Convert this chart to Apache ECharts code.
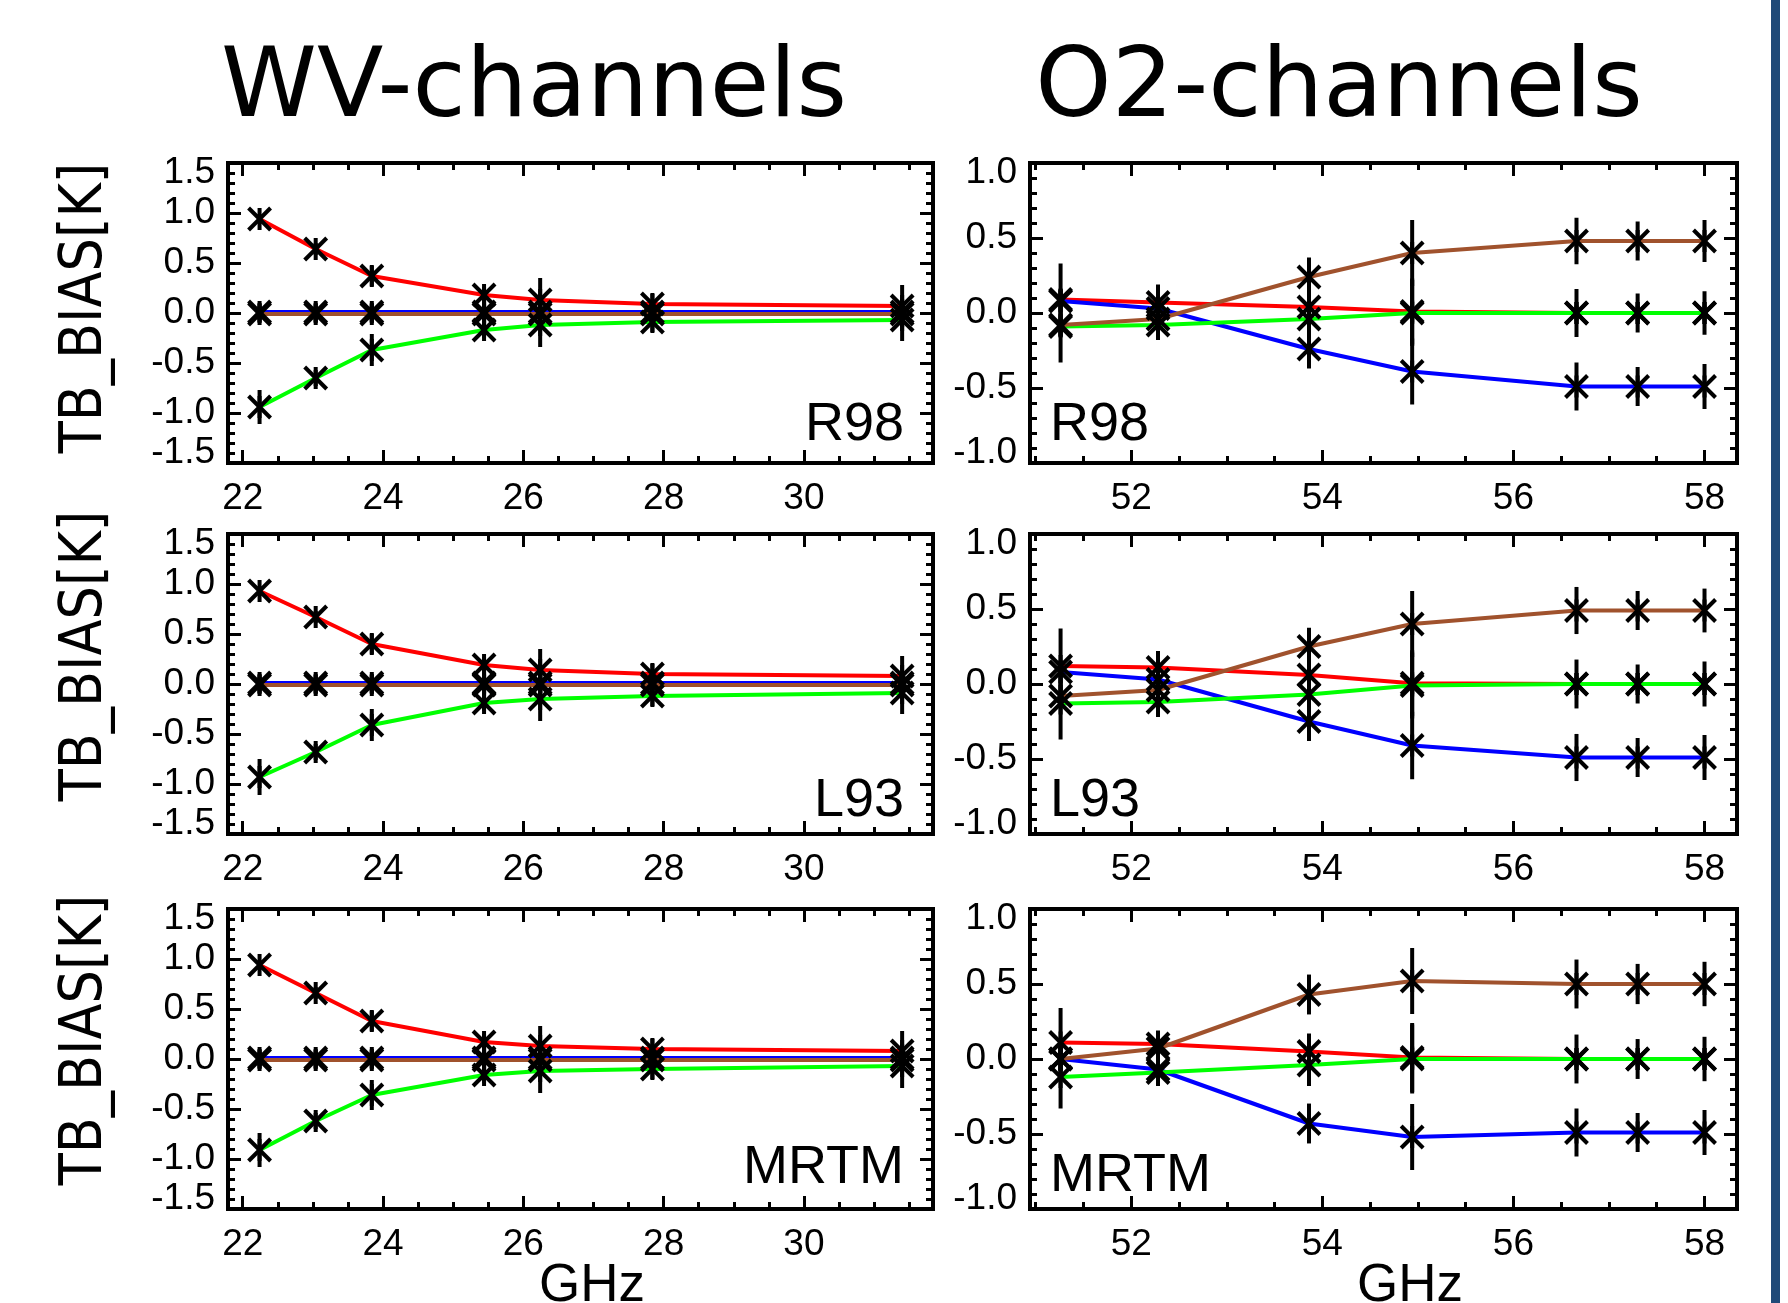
<!DOCTYPE html>
<html>
<head>
<meta charset="utf-8">
<script src="https://cdn.jsdelivr.net/npm/echarts@6/dist/echarts.min.js"></script>
<style>
  html, body { margin: 0; padding: 0; background: #fff; }
  #chart { width: 1788px; height: 1303px; }
</style>
</head>
<body>
<div id="chart"></div>
<script>
  // channel frequencies (GHz)
  var wvFreq = [22.24, 23.04, 23.84, 25.44, 26.24, 27.84, 31.40];
  var o2Freq = [51.26, 52.28, 53.86, 54.94, 56.66, 57.30, 58.00];

  // tick labels
  var wvTicks = [22, 24, 26, 28, 30];
  var o2Ticks = [52, 54, 56, 58];

  /** R98, WV channels */
  var r98WvRed = [0.94, 0.64, 0.37, 0.18, 0.13, 0.09, 0.07];
  var r98WvBlue = [0.01, 0.01, 0.01, 0.01, 0.01, 0.01, 0.01];
  var r98WvGreen = [-0.94, -0.65, -0.37, -0.17, -0.12, -0.09, -0.07];
  var r98WvBrown = [-0.01, -0.01, -0.01, -0.01, -0.01, -0.01, -0.01];
  var r98WvRedErr = [0.05, 0.06, 0.10, 0.08, 0.22, 0.10, 0.21];
  var r98WvBlueErr = [0.08, 0.08, 0.08, 0.10, 0.10, 0.10, 0.10];
  var r98WvGreenErr = [0.17, 0.08, 0.16, 0.08, 0.22, 0.10, 0.21];
  var r98WvBrownErr = [0.08, 0.08, 0.08, 0.10, 0.10, 0.10, 0.10];

  /** L93, WV channels */
  var l93WvRed = [0.93, 0.67, 0.40, 0.19, 0.14, 0.10, 0.08];
  var l93WvBlue = [0.01, 0.01, 0.01, 0.01, 0.01, 0.01, 0.01];
  var l93WvGreen = [-0.93, -0.68, -0.41, -0.19, -0.15, -0.12, -0.09];
  var l93WvBrown = [-0.01, -0.01, -0.01, -0.01, -0.01, -0.01, -0.01];
  var l93WvRedErr = [0.05, 0.06, 0.10, 0.08, 0.21, 0.10, 0.20];
  var l93WvBlueErr = [0.08, 0.08, 0.08, 0.10, 0.10, 0.10, 0.10];
  var l93WvGreenErr = [0.18, 0.08, 0.16, 0.08, 0.22, 0.10, 0.21];
  var l93WvBrownErr = [0.08, 0.08, 0.08, 0.10, 0.10, 0.10, 0.10];

  /** MRTM, WV channels */
  var mrtmWvRed = [0.94, 0.66, 0.38, 0.17, 0.13, 0.10, 0.08];
  var mrtmWvBlue = [0.01, 0.01, 0.01, 0.01, 0.01, 0.01, 0.01];
  var mrtmWvGreen = [-0.91, -0.62, -0.36, -0.16, -0.12, -0.10, -0.07];
  var mrtmWvBrown = [-0.01, -0.01, -0.01, -0.01, -0.01, -0.01, -0.01];
  var mrtmWvRedErr = [0.05, 0.06, 0.10, 0.08, 0.20, 0.10, 0.20];
  var mrtmWvBlueErr = [0.08, 0.08, 0.08, 0.10, 0.10, 0.10, 0.10];
  var mrtmWvGreenErr = [0.17, 0.08, 0.15, 0.08, 0.22, 0.10, 0.22];
  var mrtmWvBrownErr = [0.08, 0.08, 0.08, 0.10, 0.10, 0.10, 0.10];

  /** R98, O2 channels */
  var r98O2Red = [0.09, 0.07, 0.04, 0.01, 0.0, 0.0, 0.0];
  var r98O2Blue = [0.08, 0.03, -0.24, -0.39, -0.49, -0.49, -0.49];
  var r98O2Green = [-0.09, -0.08, -0.04, 0.0, 0.0, 0.0, 0.0];
  var r98O2Brown = [-0.08, -0.04, 0.24, 0.40, 0.48, 0.48, 0.48];
  var r98O2RedErr = [0.24, 0.12, 0.13, 0.22, 0.05, 0.05, 0.05];
  var r98O2BlueErr = [0.08, 0.06, 0.13, 0.22, 0.16, 0.13, 0.15];
  var r98O2GreenErr = [0.24, 0.10, 0.13, 0.22, 0.16, 0.13, 0.145];
  var r98O2BrownErr = [0.08, 0.06, 0.13, 0.22, 0.155, 0.13, 0.14];

  /** L93, O2 channels */
  var l93O2Red = [0.12, 0.11, 0.06, 0.005, 0.0, 0.0, 0.0];
  var l93O2Blue = [0.08, 0.03, -0.25, -0.41, -0.49, -0.49, -0.49];
  var l93O2Green = [-0.13, -0.12, -0.07, -0.01, 0.0, 0.0, 0.0];
  var l93O2Brown = [-0.08, -0.04, 0.25, 0.40, 0.49, 0.49, 0.49];
  var l93O2RedErr = [0.25, 0.11, 0.13, 0.22, 0.05, 0.05, 0.05];
  var l93O2BlueErr = [0.08, 0.06, 0.13, 0.225, 0.157, 0.13, 0.15];
  var l93O2GreenErr = [0.24, 0.10, 0.13, 0.22, 0.163, 0.13, 0.15];
  var l93O2BrownErr = [0.08, 0.06, 0.125, 0.22, 0.157, 0.13, 0.146];

  /** MRTM, O2 channels */
  var mrtmO2Red = [0.11, 0.10, 0.05, 0.01, 0.0, 0.0, 0.0];
  var mrtmO2Blue = [0.0, -0.07, -0.43, -0.52, -0.49, -0.49, -0.49];
  var mrtmO2Green = [-0.12, -0.09, -0.04, 0.0, 0.0, 0.0, 0.0];
  var mrtmO2Brown = [0.0, 0.07, 0.43, 0.52, 0.50, 0.50, 0.50];
  var mrtmO2RedErr = [0.23, 0.09, 0.12, 0.23, 0.05, 0.05, 0.05];
  var mrtmO2BlueErr = [0.08, 0.06, 0.133, 0.22, 0.16, 0.13, 0.15];
  var mrtmO2GreenErr = [0.21, 0.09, 0.14, 0.23, 0.163, 0.133, 0.148];
  var mrtmO2BrownErr = [0.08, 0.06, 0.133, 0.22, 0.163, 0.134, 0.148];

  var lineColors = ['#ff0000', '#0000ff', '#00ff00', '#a0522d'];

  /** minor tick positions, every 0.5 GHz */
  function halfSteps(a, b) {
    var out = [];
    for (var v = a; v <= b + 1e-9; v += 0.5) out.push(+v.toFixed(2));
    return out;
  }

  var wvLayout = { left: 228, width: 705, xMin: 21.79, xMax: 31.84, yMax: 1.5, ticks: wvTicks, minor: halfSteps(22, 31.5) };
  var o2Layout = { left: 1030, width: 707, xMin: 50.94, xMax: 58.34, yMax: 1.0, ticks: o2Ticks, minor: halfSteps(51, 58) };
  var rowTops = [163, 534, 909];

  var panels = [
    { lay: wvLayout, row: 0, freq: wvFreq, vals: [r98WvRed, r98WvBlue, r98WvGreen, r98WvBrown], errs: [r98WvRedErr, r98WvBlueErr, r98WvGreenErr, r98WvBrownErr] },
    { lay: o2Layout, row: 0, freq: o2Freq, vals: [r98O2Red, r98O2Blue, r98O2Green, r98O2Brown], errs: [r98O2RedErr, r98O2BlueErr, r98O2GreenErr, r98O2BrownErr] },
    { lay: wvLayout, row: 1, freq: wvFreq, vals: [l93WvRed, l93WvBlue, l93WvGreen, l93WvBrown], errs: [l93WvRedErr, l93WvBlueErr, l93WvGreenErr, l93WvBrownErr] },
    { lay: o2Layout, row: 1, freq: o2Freq, vals: [l93O2Red, l93O2Blue, l93O2Green, l93O2Brown], errs: [l93O2RedErr, l93O2BlueErr, l93O2GreenErr, l93O2BrownErr] },
    { lay: wvLayout, row: 2, freq: wvFreq, vals: [mrtmWvRed, mrtmWvBlue, mrtmWvGreen, mrtmWvBrown], errs: [mrtmWvRedErr, mrtmWvBlueErr, mrtmWvGreenErr, mrtmWvBrownErr] },
    { lay: o2Layout, row: 2, freq: o2Freq, vals: [mrtmO2Red, mrtmO2Blue, mrtmO2Green, mrtmO2Brown], errs: [mrtmO2RedErr, mrtmO2BlueErr, mrtmO2GreenErr, mrtmO2BrownErr] }
  ];

  var tickFont = { fontSize: 37, fontFamily: 'Liberation Sans', color: '#000' };
  var tickLine = { color: '#000', width: 3 };

  /** asterisk with vertical error bar */
  function renderStar(params, api) {
    var x = api.value(0), y = api.value(1), e = api.value(2);
    var c = api.coord([x, y]);
    var hi = api.coord([x, y + e]);
    var lo = api.coord([x, y - e]);
    var s = 11;
    var st = { stroke: '#000', lineWidth: 4 };
    return {
      type: 'group',
      children: [
        { type: 'line', shape: { x1: c[0], y1: hi[1], x2: c[0], y2: lo[1] }, style: st },
        { type: 'line', shape: { x1: c[0] - s, y1: c[1] - s, x2: c[0] + s, y2: c[1] + s }, style: st },
        { type: 'line', shape: { x1: c[0] - s, y1: c[1] + s, x2: c[0] + s, y2: c[1] - s }, style: st },
        { type: 'line', shape: { x1: c[0], y1: c[1] - s, x2: c[0], y2: c[1] + s }, style: st }
      ]
    };
  }

  var grids = [], xAxes = [], yAxes = [], series = [];
  panels.forEach(function (p, i) {
    var lay = p.lay;
    grids.push({
      left: lay.left, top: rowTops[p.row], width: lay.width, height: 300,
      show: true, borderColor: '#000', borderWidth: 4, backgroundColor: 'transparent'
    });
    var xBase = {
      gridIndex: i, type: 'value', min: lay.xMin, max: lay.xMax,
      axisLine: { show: false, onZero: false }, splitLine: { show: false }
    };
    ['bottom', 'top'].forEach(function (pos) {
      xAxes.push(Object.assign({}, xBase, {
        position: pos,
        axisTick: { inside: true, length: 13, lineStyle: tickLine, customValues: lay.ticks },
        axisLabel: pos === 'bottom'
          ? Object.assign({ customValues: lay.ticks, margin: 17 }, tickFont)
          : { show: false }
      }));
      xAxes.push(Object.assign({}, xBase, {
        position: pos,
        axisTick: { inside: true, length: 7, lineStyle: tickLine, customValues: lay.minor },
        axisLabel: { show: false }
      }));
    });
    ['left', 'right'].forEach(function (pos) {
      yAxes.push({
        gridIndex: i, type: 'value', position: pos,
        min: -lay.yMax, max: lay.yMax, interval: 0.5,
        axisLine: { show: false, onZero: false }, splitLine: { show: false },
        axisTick: { inside: true, length: 13, lineStyle: tickLine },
        minorTick: { show: true, splitNumber: 5, length: 7, lineStyle: tickLine },
        axisLabel: pos === 'left'
          ? Object.assign({
              margin: 13, lineHeight: 20,
              verticalAlignMinLabel: 'bottom', verticalAlignMaxLabel: 'top',
              formatter: function (v) { return v.toFixed(1); }
            }, tickFont)
          : { show: false }
      });
    });
    p.vals.forEach(function (vals, k) {
      series.push({
        type: 'line', xAxisIndex: 4 * i, yAxisIndex: 2 * i,
        data: p.freq.map(function (f, j) { return [f, vals[j]]; }),
        showSymbol: false, symbol: 'none', z: 2 + k * 0.1,
        lineStyle: { color: lineColors[k], width: 4 },
        animation: false
      });
    });
    var starData = [];
    p.vals.forEach(function (vals, k) {
      p.freq.forEach(function (f, j) { starData.push([f, vals[j], p.errs[k][j]]); });
    });
    series.push({
      type: 'custom', xAxisIndex: 4 * i, yAxisIndex: 2 * i,
      data: starData, renderItem: renderStar, z: 5, animation: false,
      encode: { x: 0, y: 1 }
    });
  });

  var graphic = [
    { type: 'text', x: 534, y: 91, style: { text: 'WV-channels', font: '97px "DejaVu Sans"', fill: '#000', align: 'center', verticalAlign: 'middle' } },
    { type: 'text', x: 1339, y: 91, style: { text: 'O2-channels', font: '97px "DejaVu Sans"', fill: '#000', align: 'center', verticalAlign: 'middle' } },
    { type: 'text', x: 592, y: 1286, style: { text: 'GHz', font: '53px "Liberation Sans"', fill: '#000', align: 'center', verticalAlign: 'middle' } },
    { type: 'text', x: 1410, y: 1286, style: { text: 'GHz', font: '53px "Liberation Sans"', fill: '#000', align: 'center', verticalAlign: 'middle' } },
    { type: 'rect', shape: { x: 1771, y: 0, width: 9, height: 1303 }, style: { fill: '#1f4a78' } }
  ];
  [308, 656, 1040].forEach(function (cy) {
    graphic.push({
      type: 'text', x: 86, y: cy, rotation: Math.PI / 2, scaleX: 0.906,
      style: { text: 'TB_BIAS[K]', font: '58px "DejaVu Sans"', fill: '#000', align: 'center', verticalAlign: 'middle' }
    });
  });
  var modelNames = ['R98', 'L93', 'MRTM'];
  var labelY = [425, 801, 1168];
  modelNames.forEach(function (name, r) {
    graphic.push({ type: 'text', x: 904, y: labelY[r], style: { text: name, font: '54px "Liberation Sans"', fill: '#000', align: 'right', verticalAlign: 'middle' } });
    graphic.push({ type: 'text', x: 1050, y: labelY[r] + (r === 2 ? 8 : 0), style: { text: name, font: '54px "Liberation Sans"', fill: '#000', align: 'left', verticalAlign: 'middle' } });
  });

  var chart = echarts.init(document.getElementById('chart'), null, { renderer: 'canvas' });
  chart.setOption({
    backgroundColor: '#fff',
    animation: false,
    grid: grids,
    xAxis: xAxes,
    yAxis: yAxes,
    series: series,
    graphic: graphic
  });
</script>
</body>
</html>
